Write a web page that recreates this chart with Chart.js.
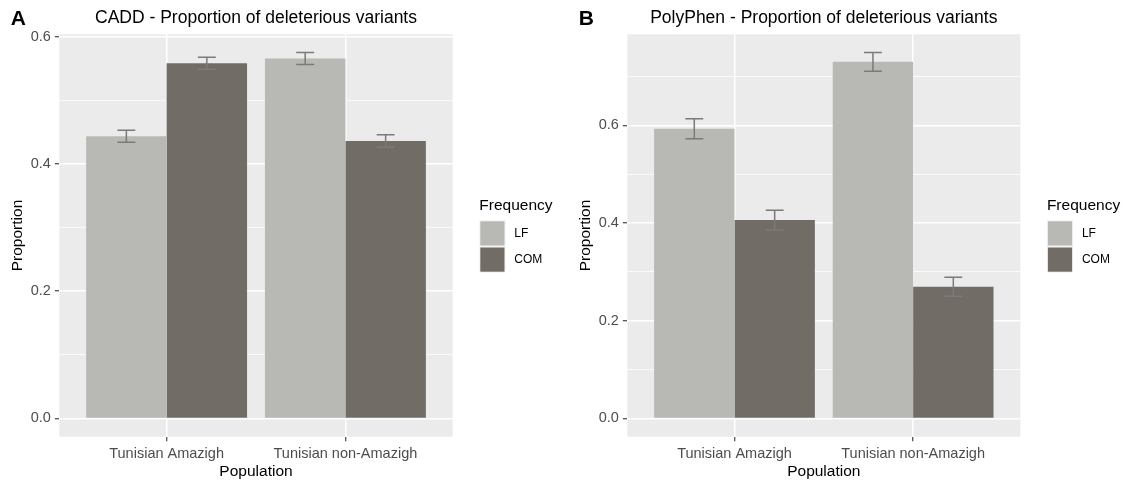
<!DOCTYPE html>
<html>
<head>
<meta charset="utf-8">
<script src="https://cdn.jsdelivr.net/npm/chart.js@4.4.1/dist/chart.umd.min.js"></script>
<style>
  html, body { margin: 0; padding: 0; background: #ffffff; }
  #wrap { position: relative; width: 1128px; height: 481px; overflow: hidden; }
  canvas { position: absolute; top: 0; }
</style>
</head>
<body>
<div id="wrap">
  <canvas id="cadd" width="564" height="481" style="left:0px"></canvas>
  <canvas id="poly" width="564" height="481" style="left:564px"></canvas>
</div>
<script>
// Categories and groups
const populations = ['Tunisian Amazigh', 'Tunisian non-Amazigh'];
const freqGroups = ['LF', 'COM'];

// CADD proportions (mean and error half-width)
const caddLF = [0.4436, 0.5657];
const caddLFErr = [0.0094, 0.0094];
const caddCOM = [0.5583, 0.4362];
const caddCOMErr = [0.0094, 0.0099];

// PolyPhen proportions (mean and error half-width)
const polyLF = [0.593, 0.730];
const polyLFErr = [0.0205, 0.019];
const polyCOM = [0.406, 0.2695];
const polyCOMErr = [0.020, 0.0195];

// Axis breaks
const caddYMajor = [0, 0.2, 0.4, 0.6];
const caddYMinor = [0.1, 0.3, 0.5];
const polyYMajor = [0, 0.2, 0.4, 0.6];
const polyYMinor = [0.1, 0.3, 0.5, 0.7];

const FONT = "'Liberation Sans', Arial, Helvetica, sans-serif";
const COLORS = { LF: '#B8B9B4', COM: '#726C67' };
const PANEL_BG = '#EBEBEB';
const TICK_TEXT = '#4D4D4D';

function makePanel(canvasId, p) {
  const top = Math.max(...p.lf.map((v, i) => v + p.lfErr[i]), ...p.com.map((v, i) => v + p.comErr[i]));
  const yMin = -0.05 * top;
  const yMax = 1.05 * top;
  const yAll = [...p.yMajor, ...p.yMinor].sort((a, b) => a - b);
  const isMajor = v => p.yMajor.includes(v);
  const errs = [p.lfErr, p.comErr];
  const vals = [p.lf, p.com];

  const decorations = {
    id: 'decorations',
    beforeDraw(chart) {
      const { ctx, chartArea: a } = chart;
      ctx.save();
      ctx.fillStyle = PANEL_BG;
      ctx.fillRect(a.left, a.top, a.right - a.left, a.bottom - a.top);
      ctx.restore();
    },
    afterDatasetsDraw(chart) {
      const { ctx } = chart;
      const xs = chart.scales.x, ys = chart.scales.y;
      const half = (xs.getPixelForValue(1.1) - xs.getPixelForValue(1)) / 2;
      ctx.save();
      ctx.strokeStyle = '#7A7A7A';
      ctx.lineWidth = 1.5;
      for (let d = 0; d < 2; d++) {
        const meta = chart.getDatasetMeta(d);
        meta.data.forEach((bar, i) => {
          const hi = ys.getPixelForValue(vals[d][i] + errs[d][i]);
          const lo = ys.getPixelForValue(vals[d][i] - errs[d][i]);
          ctx.beginPath();
          ctx.moveTo(bar.x - half, hi); ctx.lineTo(bar.x + half, hi);
          ctx.moveTo(bar.x, hi); ctx.lineTo(bar.x, lo);
          ctx.moveTo(bar.x - half, lo); ctx.lineTo(bar.x + half, lo);
          ctx.stroke();
        });
      }
      ctx.restore();
    },
    afterDraw(chart) {
      const { ctx, chartArea: a } = chart;
      const cx = (a.left + a.right) / 2;
      const cy = (a.top + a.bottom) / 2;
      ctx.save();
      // tag letter
      ctx.fillStyle = '#000';
      ctx.font = `bold 21px ${FONT}`;
      ctx.textAlign = 'left';
      ctx.textBaseline = 'alphabetic';
      ctx.fillText(p.tag, a.left - 48.5, 24.5);
      // title
      ctx.font = `17.5px ${FONT}`;
      ctx.textAlign = 'center';
      ctx.fillText(p.title, cx, 22.5);
      // x axis title
      ctx.font = `15.5px ${FONT}`;
      ctx.fillText('Population', cx, 475.5);
      // y axis title
      ctx.save();
      ctx.translate(a.left - 41.5, cy);
      ctx.rotate(-Math.PI / 2);
      ctx.textBaseline = 'middle';
      ctx.fillText('Proportion', 0, 0);
      ctx.restore();
      // legend
      const lx = a.right + 26.6;
      ctx.textAlign = 'left';
      ctx.font = `15.5px ${FONT}`;
      ctx.fillText('Frequency', lx, 210);
      const keyTop = 220.3, keySize = 26.2;
      freqGroups.forEach((g, i) => {
        const ky = keyTop + i * keySize;
        ctx.fillStyle = '#F2F2F2';
        ctx.fillRect(lx, ky, keySize, keySize);
        ctx.fillStyle = COLORS[g];
        ctx.fillRect(lx + 1, ky + 1, keySize - 2, keySize - 2);
        ctx.fillStyle = '#000';
        ctx.font = `12px ${FONT}`;
        ctx.textBaseline = 'middle';
        ctx.fillText(g, lx + 35, ky + keySize / 2 + 0.5);
        ctx.textBaseline = 'alphabetic';
      });
      ctx.restore();
    }
  };

  return new Chart(document.getElementById(canvasId), {
    type: 'bar',
    data: {
      datasets: [
        { label: freqGroups[0], data: p.lf.map((v, i) => ({ x: i + 1, y: v })), backgroundColor: COLORS.LF, borderWidth: 0 },
        { label: freqGroups[1], data: p.com.map((v, i) => ({ x: i + 1, y: v })), backgroundColor: COLORS.COM, borderWidth: 0 }
      ]
    },
    options: {
      responsive: false,
      animation: false,
      devicePixelRatio: 1,
      categoryPercentage: 0.9,
      barPercentage: 1.0,
      layout: { padding: { left: 0, right: p.padRight, top: 34.3, bottom: 0 } },
      plugins: { legend: { display: false }, title: { display: false }, tooltip: { enabled: false } },
      scales: {
        x: {
          type: 'linear',
          min: 0.4,
          max: 2.6,
          bounds: 'data',
          offset: false,
          afterBuildTicks: s => { s.ticks = populations.map((_, i) => ({ value: i + 1 })); },
          afterFit: s => { s.height = 44.3; },
          border: { display: false },
          grid: { offset: false, color: '#FFFFFF', lineWidth: 1.5, tickColor: '#333333', tickLength: 4.5, tickWidth: 1.1 },
          ticks: {
            autoSkip: false, maxRotation: 0, padding: 4,
            color: TICK_TEXT, font: { family: FONT, size: 14.5 },
            callback: v => populations[Math.round(v) - 1]
          }
        },
        y: {
          type: 'linear',
          min: yMin,
          max: yMax,
          bounds: 'data',
          afterBuildTicks: s => { s.ticks = yAll.map(v => ({ value: v })); },
          afterFit: s => { s.width = p.yAxisWidth; },
          border: { display: false },
          grid: {
            color: '#FFFFFF',
            lineWidth: c => (c.tick && isMajor(c.tick.value)) ? 1.5 : 0.75,
            tickColor: c => (c.tick && isMajor(c.tick.value)) ? '#333333' : 'rgba(0,0,0,0)',
            tickLength: 4.5,
            tickWidth: 1.1
          },
          ticks: {
            autoSkip: false, padding: 4,
            color: TICK_TEXT, font: { family: FONT, size: 14.5 },
            callback: v => isMajor(v) ? v.toFixed(1) : ''
          }
        }
      }
    },
    plugins: [decorations]
  });
}

makePanel('cadd', {
  tag: 'A', title: 'CADD - Proportion of deleterious variants',
  lf: caddLF, lfErr: caddLFErr, com: caddCOM, comErr: caddCOMErr,
  yMajor: caddYMajor, yMinor: caddYMinor,
  yAxisWidth: 59.3, padRight: 564 - 452.7
});

makePanel('poly', {
  tag: 'B', title: 'PolyPhen - Proportion of deleterious variants',
  lf: polyLF, lfErr: polyLFErr, com: polyCOM, comErr: polyCOMErr,
  yMajor: polyYMajor, yMinor: polyYMinor,
  yAxisWidth: 63.3, padRight: 564 - 456.3
});
</script>
</body>
</html>
